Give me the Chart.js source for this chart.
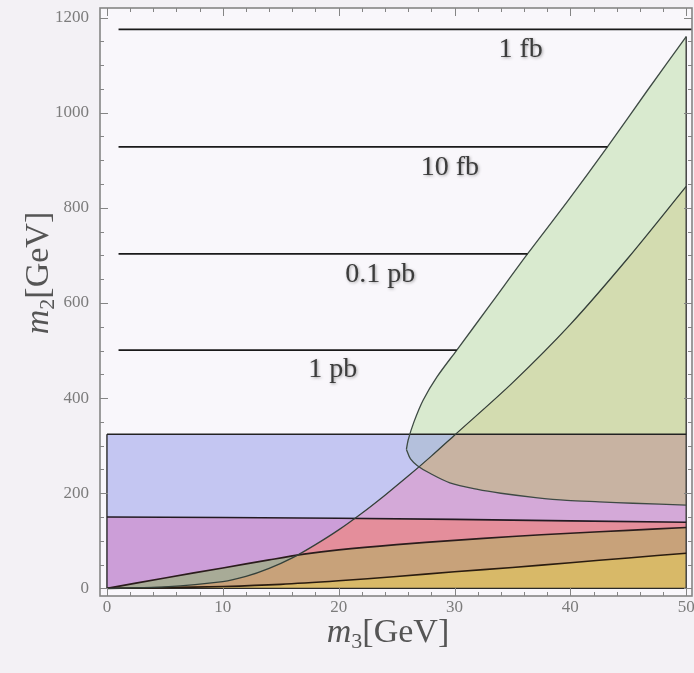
<!DOCTYPE html>
<html>
<head>
<meta charset="utf-8">
<script src="https://cdn.jsdelivr.net/npm/chart.js@4.4.1/dist/chart.umd.min.js"></script>
<style>
  html, body { margin: 0; padding: 0; background: #f3f1f5; }
  canvas { display: block; }
</style>
</head>
<body>
<canvas id="plot" width="694" height="673"></canvas>
<script>
// tick labels
const xTicks = [0, 10, 20, 30, 40, 50];
const yTicks = [0, 200, 400, 600, 800, 1000, 1200];

// curve C1 (the region below it is the lower-right one)
const c1M3 = [0, 5, 10, 12, 14, 16, 18, 20, 22, 24, 26, 28, 30, 35, 40, 45, 50];
const c1M2 = [0, 3, 14, 25, 42, 64, 92, 123, 158, 196, 236, 278, 322, 432, 555, 695, 845];

// curve C2
const c2M3 = [0, 5, 10, 14, 17, 20, 25, 30, 35, 40, 45, 50];
const c2M2 = [0, 22, 43, 60, 72, 81, 92, 101, 109, 116, 122, 128];

// curve C3
const c3M3 = [0, 5, 10, 15, 20, 25, 30, 35, 40, 45, 50];
const c3M2 = [0, 1.5, 4, 8.5, 16, 25, 35, 44, 54, 64, 74];

// tops of the two bands
const bandAM3 = [0, 10, 20, 30, 40, 50];
const bandAM2 = [150, 149, 147.5, 145, 142, 139];
const bandBM3 = [0, 50];
const bandBM2 = [324, 324];

// outer contour (opens to the right)
const upperM3 = [50, 46.6, 43.2, 39.8, 36.3, 33.2, 30.2, 28.5, 27.3, 26.5, 26.0, 25.85];
const upperM2 = [1160, 1045, 928, 815, 703, 600, 501, 445, 396, 350, 312, 292];
const lowerM3 = [25.85, 26.2, 26.8, 27.8, 29.6, 32, 34, 37, 39.7, 42.5, 45.4, 50];
const lowerM2 = [292, 272, 258, 243, 222, 208, 200, 191, 185, 182, 179, 175];

// cross section contours
const xsText = ['1 fb', '10 fb', '0.1 pb', '1 pb'];
const xsM2 = [1175, 928, 703, 501];
const xsFromM3 = [1, 1, 1, 1];
const xsToM3 = [50.5, 43.2, 36.3, 30.2];
const xsTextM3 = [35.7, 29.6, 23.6, 19.5];
const xsTextM2 = [1133, 884, 659, 459];

function pts(xs, ys) {
    return xs.map((x, i) => ({ x: x, y: ys[i] }));
}

function area(data, color, fill, order, tension) {
    return { data: data, fill: fill, backgroundColor: color, borderWidth: 0, pointRadius: 0, order: order, tension: tension || 0 };
}
function stroke(data, color, width, order, tension) {
    return { data: data, fill: false, borderColor: color, borderWidth: width, pointRadius: 0, order: order, tension: tension || 0 };
}
// part of the region under C1 that lies above another curve
function over(target, color, order) {
    return { data: pts(c1M3, c1M2), fill: { target: target, above: color, below: 'rgba(0,0,0,0)' }, borderWidth: 0, pointRadius: 0, order: order, tension: 0.3 };
}

const c1 = pts(c1M3, c1M2);
const outerShape = pts(upperM3.concat(lowerM3.slice(1)), upperM2.concat(lowerM2.slice(1)));
const last = c1M3.length - 1;

const datasets = [
    area(outerShape, '#d9eacf', 'shape', 40, 0.3),                   // 0
    area(pts(bandBM3, bandBM2), 'rgba(144,150,234,0.5)', 'origin', 39), // 1
    area(pts(bandAM3, bandAM2), '#cc9ed8', 'origin', 38),              // 2
    area(pts(c2M3, c2M2), '#a8ab97', 'origin', 37, 0.3),               // 3
    area(pts(c3M3, c3M2), '#9c9e80', 'origin', 36, 0.3),               // 4
    area(c1, '#d8b968', 'origin', 35, 0.3),                            // 5
    over(4, '#c8a27a', 34),                                            // 6
    over(3, '#e48e9b', 33),                                            // 7
    over(2, '#d4a9d8', 32),                                            // 8
    stroke(pts(lowerM3, lowerM2), '#3e4a44', 1.3, 3, 0.3),             // 9
    over(9, '#c8b3a2', 31),                                            // 10
    over(1, '#d3dcb0', 30),                                            // 11
    stroke(pts(upperM3, upperM2), '#3e4a44', 1.3, 3, 0.3),
    stroke(c1, '#34403a', 1.3, 3, 0.3),
    stroke(pts(c2M3, c2M2), '#2a1c1c', 1.6, 3, 0.3),
    stroke(pts(c3M3, c3M2), '#2a1c10', 1.6, 3, 0.3),
    stroke(pts(bandAM3, bandAM2), '#221a22', 1.6, 3),
    stroke(pts(bandBM3, bandBM2), '#222222', 1.6, 3),
    stroke([{ x: c1M3[0], y: 0 }, { x: c1M3[last], y: 0 }], '#2a2a2a', 1.4, 3),
    stroke([{ x: bandBM3[0], y: 0 }, { x: bandBM3[0], y: bandBM2[0] }], '#2a2a2a', 1.4, 3),
    stroke([{ x: c1M3[last], y: 0 }, { x: upperM3[0], y: upperM2[0] }], '#3a3a3a', 1.4, 3)
];
xsM2.forEach((v, i) => {
    datasets.push(stroke([{ x: xsFromM3[i], y: v }, { x: xsToM3[i], y: v }], '#1a1a1a', 1.7, 2));
});

const framePlugin = {
    id: 'framePlugin',
    beforeDraw(chart) {
        const { ctx, chartArea: a } = chart;
        ctx.save();
        ctx.fillStyle = '#f3f1f5';
        ctx.fillRect(0, 0, chart.width, chart.height);
        ctx.fillStyle = '#f9f7fb';
        ctx.fillRect(a.left, a.top, a.right - a.left, a.bottom - a.top);
        ctx.restore();
    },
    afterDatasetsDraw(chart) {
        const { ctx, scales } = chart;
        ctx.save();
        ctx.font = '28px "Liberation Serif"';
        ctx.fillStyle = '#3c3c3c';
        ctx.textAlign = 'center';
        ctx.textBaseline = 'middle';
        ctx.shadowColor = 'rgba(60,60,60,0.45)';
        ctx.shadowBlur = 3;
        ctx.shadowOffsetX = 1;
        ctx.shadowOffsetY = 1;
        xsText.forEach((t, i) => {
            ctx.fillText(t, scales.x.getPixelForValue(xsTextM3[i]), scales.y.getPixelForValue(xsTextM2[i]));
        });
        ctx.restore();
    },
    afterDraw(chart) {
        const { ctx, chartArea: a, scales } = chart;
        ctx.save();
        // frame
        ctx.strokeStyle = '#858585';
        ctx.lineWidth = 1.6;
        ctx.strokeRect(a.left, a.top, a.right - a.left, a.bottom - a.top);
        // inward ticks, minor every 2 GeV / 50 GeV
        ctx.lineWidth = 1;
        ctx.beginPath();
        for (let v = 0; v <= 50; v += 2) {
            const len = v % 10 === 0 ? 8 : 4;
            const px = Math.round(scales.x.getPixelForValue(v)) + 0.5;
            ctx.moveTo(px, a.bottom); ctx.lineTo(px, a.bottom - len);
            ctx.moveTo(px, a.top); ctx.lineTo(px, a.top + len);
        }
        for (let v = 0; v <= 1200; v += 50) {
            const len = v % 200 === 0 ? 8 : 4;
            const py = Math.round(scales.y.getPixelForValue(v)) + 0.5;
            ctx.moveTo(a.left, py); ctx.lineTo(a.left + len, py);
            ctx.moveTo(a.right, py); ctx.lineTo(a.right - len, py);
        }
        ctx.stroke();

        // tick labels
        ctx.fillStyle = '#7c7c7c';
        ctx.font = '17px "Liberation Serif"';
        ctx.textBaseline = 'middle';
        ctx.textAlign = 'center';
        xTicks.forEach(v => ctx.fillText(String(v), scales.x.getPixelForValue(v), a.bottom + 12));
        ctx.textAlign = 'right';
        yTicks.forEach(v => ctx.fillText(String(v), a.left - 11, scales.y.getPixelForValue(v)));

        // axis titles: italic m, subscript, [GeV]
        function title(sub, cx, cy, rot) {
            ctx.save();
            ctx.translate(cx, cy);
            ctx.rotate(rot);
            ctx.fillStyle = '#555';
            ctx.textBaseline = 'alphabetic';
            ctx.textAlign = 'left';
            const big = '34px "Liberation Serif"';
            const ital = 'italic 34px "Liberation Serif"';
            const small = '22px "Liberation Serif"';
            ctx.font = ital; const wm = ctx.measureText('m').width;
            ctx.font = small; const ws = ctx.measureText(sub).width;
            ctx.font = big; const wg = ctx.measureText('[GeV]').width;
            let x = -(wm + ws + wg) / 2;
            ctx.font = ital; ctx.fillText('m', x, 11); x += wm;
            ctx.font = small; ctx.fillText(sub, x, 17); x += ws;
            ctx.font = big; ctx.fillText('[GeV]', x, 11);
            ctx.restore();
        }
        title('3', 388, 631, 0);
        title('2', 37, 273, -Math.PI / 2);
        ctx.restore();
    }
};

new Chart(document.getElementById('plot'), {
    type: 'line',
    data: { datasets: datasets },
    options: {
        responsive: false,
        animation: false,
        events: [],
        layout: { padding: { top: 8, right: 2, left: 0, bottom: 0 } },
        plugins: { legend: { display: false }, tooltip: { enabled: false } },
        scales: {
            x: {
                type: 'linear',
                min: -0.6,
                max: 50.5,
                grid: { display: false },
                border: { display: false },
                ticks: { display: false },
                afterFit(scale) { scale.height = 77; scale.paddingLeft = 0; scale.paddingRight = 0; }
            },
            y: {
                type: 'linear',
                min: -16,
                max: 1220,
                grid: { display: false },
                border: { display: false },
                ticks: { display: false },
                afterFit(scale) { scale.width = 100; scale.paddingTop = 0; scale.paddingBottom = 0; }
            }
        }
    },
    plugins: [framePlugin]
});
</script>
</body>
</html>
